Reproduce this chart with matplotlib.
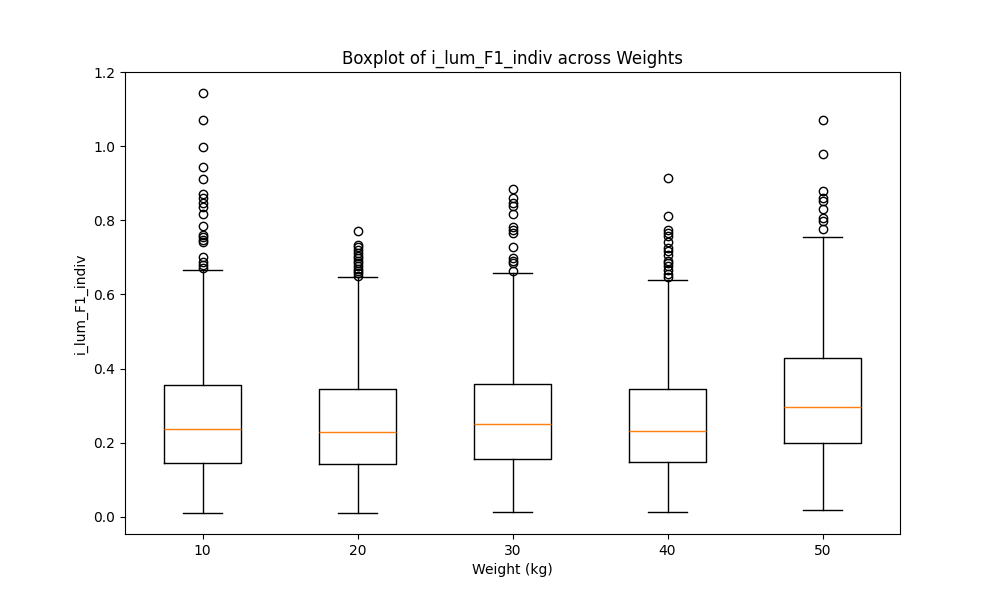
import matplotlib
matplotlib.use("Agg")
import matplotlib.pyplot as plt

# Summary statistics
weights = ["10", "20", "30", "40", "50"]
whislo = [0.011, 0.011, 0.013, 0.013, 0.019]
q1 = [0.146, 0.143, 0.156, 0.148, 0.200]
med = [0.237, 0.229, 0.251, 0.232, 0.297]
q3 = [0.356, 0.345, 0.359, 0.345, 0.429]
whishi = [0.666, 0.647, 0.658, 0.639, 0.755]

fliers_10 = [1.143, 1.070, 0.999, 0.943, 0.911, 0.870, 0.860, 0.848, 0.837,
             0.816, 0.785, 0.760, 0.754, 0.747, 0.741, 0.702, 0.688, 0.680, 0.671]
fliers_20 = [0.772, 0.733, 0.727, 0.720, 0.712, 0.705, 0.698, 0.690, 0.684,
             0.677, 0.670, 0.664, 0.657, 0.651]
fliers_30 = [0.884, 0.859, 0.846, 0.839, 0.817, 0.781, 0.774, 0.767, 0.727,
             0.698, 0.691, 0.684, 0.664]
fliers_40 = [0.913, 0.812, 0.774, 0.767, 0.758, 0.742, 0.726, 0.717, 0.707,
             0.690, 0.684, 0.678, 0.666, 0.654, 0.648]
fliers_50 = [1.071, 0.979, 0.880, 0.859, 0.853, 0.830, 0.805, 0.799, 0.777]
fliers = [fliers_10, fliers_20, fliers_30, fliers_40, fliers_50]

stats = []
for i, lab in enumerate(weights):
    stats.append(dict(label=lab, whislo=whislo[i], q1=q1[i], med=med[i],
                      q3=q3[i], whishi=whishi[i], fliers=fliers[i]))

fig, ax = plt.subplots(figsize=(10, 6), dpi=100)
ax.bxp(stats)
ax.set_ylim(-0.046, 1.2)
ax.set_title("Boxplot of i_lum_F1_indiv across Weights")
ax.set_xlabel("Weight (kg)")
ax.set_ylabel("i_lum_F1_indiv")
fig.savefig("out.png")
